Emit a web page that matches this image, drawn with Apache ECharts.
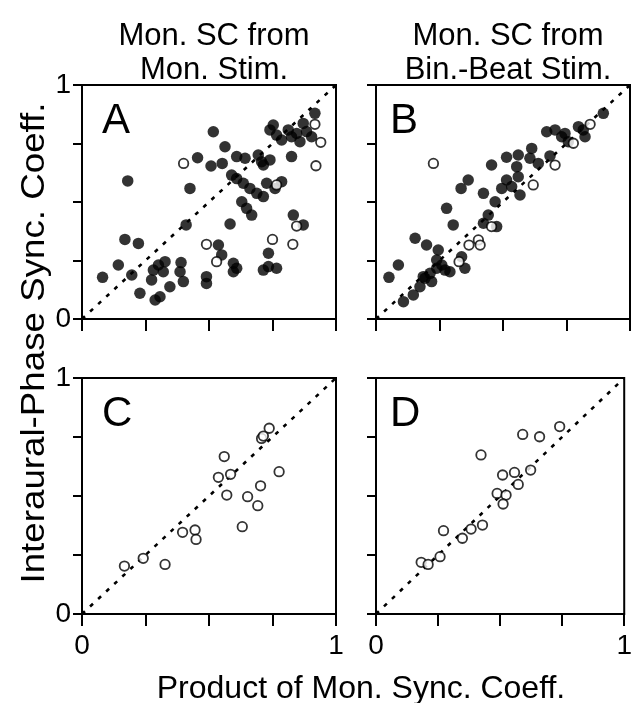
<!DOCTYPE html>
<html><head><meta charset="utf-8">
<script src="https://cdn.jsdelivr.net/npm/echarts@6/dist/echarts.min.js"></script>
<style>html,body{margin:0;padding:0;background:#fff}#c{width:635px;height:703px}</style>
</head><body><div id="c"></div>
<script>
// ---- data (x = product of monaural sync. coeff., y = interaural-phase sync. coeff.) ----
var panelTitles = ["Mon. SC from\nMon. Stim.", "Mon. SC from\nBin.-Beat Stim."];
var panelLetters = ["A", "B", "C", "D"];
var tickLabels = ["0", "1"];
var yAxisTitle = "Interaural-Phase Sync. Coeff.";
var xAxisTitle = "Product of Mon. Sync. Coeff.";

var aFilled = [[0.517,0.80],[0.563,0.736],[0.455,0.689],[0.508,0.654],[0.552,0.665],[0.609,0.694],[0.642,0.687],[0.694,0.701],[0.714,0.658],[0.740,0.68],[0.18,0.59],[0.425,0.558],[0.589,0.615],[0.609,0.60],[0.635,0.58],[0.661,0.558],[0.688,0.537],[0.714,0.523],[0.727,0.58],[0.76,0.558],[0.786,0.587],[0.629,0.501],[0.648,0.473],[0.668,0.444],[0.41,0.402],[0.583,0.406],[0.832,0.444],[0.871,0.402],[0.169,0.34],[0.222,0.323],[0.537,0.316],[0.55,0.274],[0.734,0.281],[0.143,0.231],[0.081,0.178],[0.196,0.188],[0.228,0.11],[0.281,0.209],[0.301,0.231],[0.327,0.245],[0.32,0.202],[0.274,0.167],[0.346,0.138],[0.307,0.095],[0.288,0.081],[0.39,0.241],[0.386,0.202],[0.399,0.16],[0.49,0.181],[0.49,0.152],[0.596,0.238],[0.596,0.202],[0.609,0.217],[0.714,0.209],[0.766,0.217],[0.734,0.224],[0.753,0.829],[0.74,0.808],[0.766,0.786],[0.786,0.765],[0.812,0.808],[0.825,0.779],[0.845,0.793],[0.858,0.758],[0.871,0.836],[0.884,0.801],[0.904,0.779],[0.917,0.879],[0.825,0.694],[0.707,0.672]];
var aOpen = [[0.40,0.665],[0.766,0.573],[0.845,0.397],[0.49,0.319],[0.53,0.245],[0.75,0.34],[0.83,0.319],[0.917,0.832],[0.94,0.755],[0.921,0.655]];

var bFilled = [[0.895,0.879],[0.816,0.808],[0.797,0.822],[0.823,0.779],[0.757,0.758],[0.731,0.779],[0.705,0.808],[0.672,0.80],[0.744,0.793],[0.455,0.658],[0.514,0.691],[0.56,0.701],[0.613,0.729],[0.606,0.687],[0.639,0.665],[0.685,0.697],[0.554,0.651],[0.56,0.608],[0.514,0.594],[0.495,0.558],[0.534,0.566],[0.567,0.53],[0.363,0.594],[0.335,0.558],[0.423,0.537],[0.469,0.501],[0.278,0.473],[0.304,0.402],[0.442,0.444],[0.423,0.409],[0.475,0.395],[0.154,0.345],[0.199,0.316],[0.245,0.295],[0.088,0.231],[0.051,0.178],[0.239,0.252],[0.259,0.231],[0.291,0.202],[0.35,0.217],[0.213,0.195],[0.193,0.174],[0.219,0.16],[0.173,0.138],[0.147,0.103],[0.108,0.074],[0.186,0.181],[0.272,0.209],[0.337,0.266],[0.239,0.217]];
var bOpen = [[0.843,0.832],[0.777,0.751],[0.226,0.665],[0.705,0.658],[0.619,0.573],[0.455,0.395],[0.403,0.338],[0.41,0.316],[0.366,0.316],[0.327,0.245]];

var cOpen = [[0.737,0.787],[0.707,0.744],[0.714,0.754],[0.56,0.667],[0.537,0.579],[0.585,0.592],[0.776,0.603],[0.703,0.543],[0.57,0.504],[0.652,0.497],[0.692,0.459],[0.631,0.37],[0.396,0.346],[0.445,0.356],[0.449,0.316],[0.241,0.236],[0.167,0.203],[0.327,0.21]];
var dOpen = [[0.74,0.794],[0.591,0.761],[0.659,0.751],[0.423,0.674],[0.51,0.589],[0.558,0.60],[0.623,0.61],[0.573,0.549],[0.488,0.511],[0.524,0.504],[0.512,0.466],[0.272,0.353],[0.383,0.36],[0.348,0.321],[0.429,0.377],[0.258,0.243],[0.182,0.219],[0.21,0.21]];
var diagonal = [[0,0],[1,1]];

// ---- layout / styling ----
var FONT = "'Liberation Sans', Arial, sans-serif";
var grids = [
  {left:82, top:85, width:254, height:234},
  {left:376, top:85, width:254, height:234},
  {left:82, top:378, width:254, height:236},
  {left:376, top:378, width:254, height:236}
];
var letterOffsets = [15, 9, 15, 9];
var chart = echarts.init(document.getElementById('c'), null, {renderer:'canvas'});
function endLabel(v){ return (v===0)?tickLabels[0]:(v===1?tickLabels[1]:''); }
var xAxes = [], yAxes = [], series = [];
grids.forEach(function(g,i){
  g.show = true; g.borderColor = '#000'; g.borderWidth = 2; g.containLabel = false;
  xAxes.push({gridIndex:i, type:'value', min:0, max:1, interval:0.25,
    axisLine:{show:true, onZero:false, lineStyle:{color:'#000', width:2}},
    axisTick:{show:true, inside:false, length:12, lineStyle:{color:'#000', width:2}},
    splitLine:{show:false},
    axisLabel:{show:i>=2, formatter:endLabel, color:'#000', fontSize:28, fontFamily:FONT, margin:18, showMinLabel:true, showMaxLabel:true}
  });
  yAxes.push({gridIndex:i, type:'value', min:0, max:1, interval:0.25,
    axisLine:{show:true, onZero:false, lineStyle:{color:'#000', width:2}},
    axisTick:{show:true, inside:false, length:9, lineStyle:{color:'#000', width:2}},
    splitLine:{show:false},
    axisLabel:{show:(i%2===0), formatter:endLabel, color:'#000', fontSize:28, fontFamily:FONT, margin:11, showMinLabel:true, showMaxLabel:true}
  });
  series.push({type:'line', xAxisIndex:i, yAxisIndex:i, data:diagonal, symbol:'none', silent:true,
    lineStyle:{color:'#000', width:2.6, type:[4,7]}, z:1});
});
function filled(i, d){ series.push({type:'scatter', xAxisIndex:i, yAxisIndex:i, data:d, symbol:'circle', symbolSize:11.5,
  itemStyle:{color:'#000', borderColor:'#000', borderWidth:0}, z:3}); }
function open(i, d){ series.push({type:'scatter', xAxisIndex:i, yAxisIndex:i, data:d, symbol:'circle', symbolSize:9.5,
  itemStyle:{color:'#fff', borderColor:'#000', borderWidth:1.8}, z:4}); }
filled(0,aFilled); open(0,aOpen);
filled(1,bFilled); open(1,bOpen);
open(2,cOpen); open(3,dOpen);

var titles = [];
panelTitles.forEach(function(t,i){
  titles.push({text:t, left:grids[i].left + grids[i].width/2, top:14, textAlign:'center',
    textStyle:{fontSize:31, fontWeight:'normal', color:'#000', fontFamily:FONT, lineHeight:34}});
});
panelLetters.forEach(function(t,i){
  titles.push({text:t, left:grids[i].left + letterOffsets[i], top:grids[i].top + 10,
    textStyle:{fontSize:42, fontWeight:'normal', color:'#000', fontFamily:FONT}});
});
titles.push({text:xAxisTitle, left:356, top:668, textAlign:'center',
  textStyle:{fontSize:32, fontWeight:'normal', color:'#000', fontFamily:FONT}});

chart.setOption({
  animation:false,
  backgroundColor:'#fff',
  title:titles,
  grid:grids,
  xAxis:xAxes,
  yAxis:yAxes,
  series:series,
  graphic:[{type:'text', rotation:Math.PI/2, x:35, y:343, scaleX:1.08, scaleY:1,
    style:{text:yAxisTitle, fill:'#000', font:'normal 34px ' + FONT, textAlign:'center', textVerticalAlign:'middle'}}]
});
</script></body></html>
